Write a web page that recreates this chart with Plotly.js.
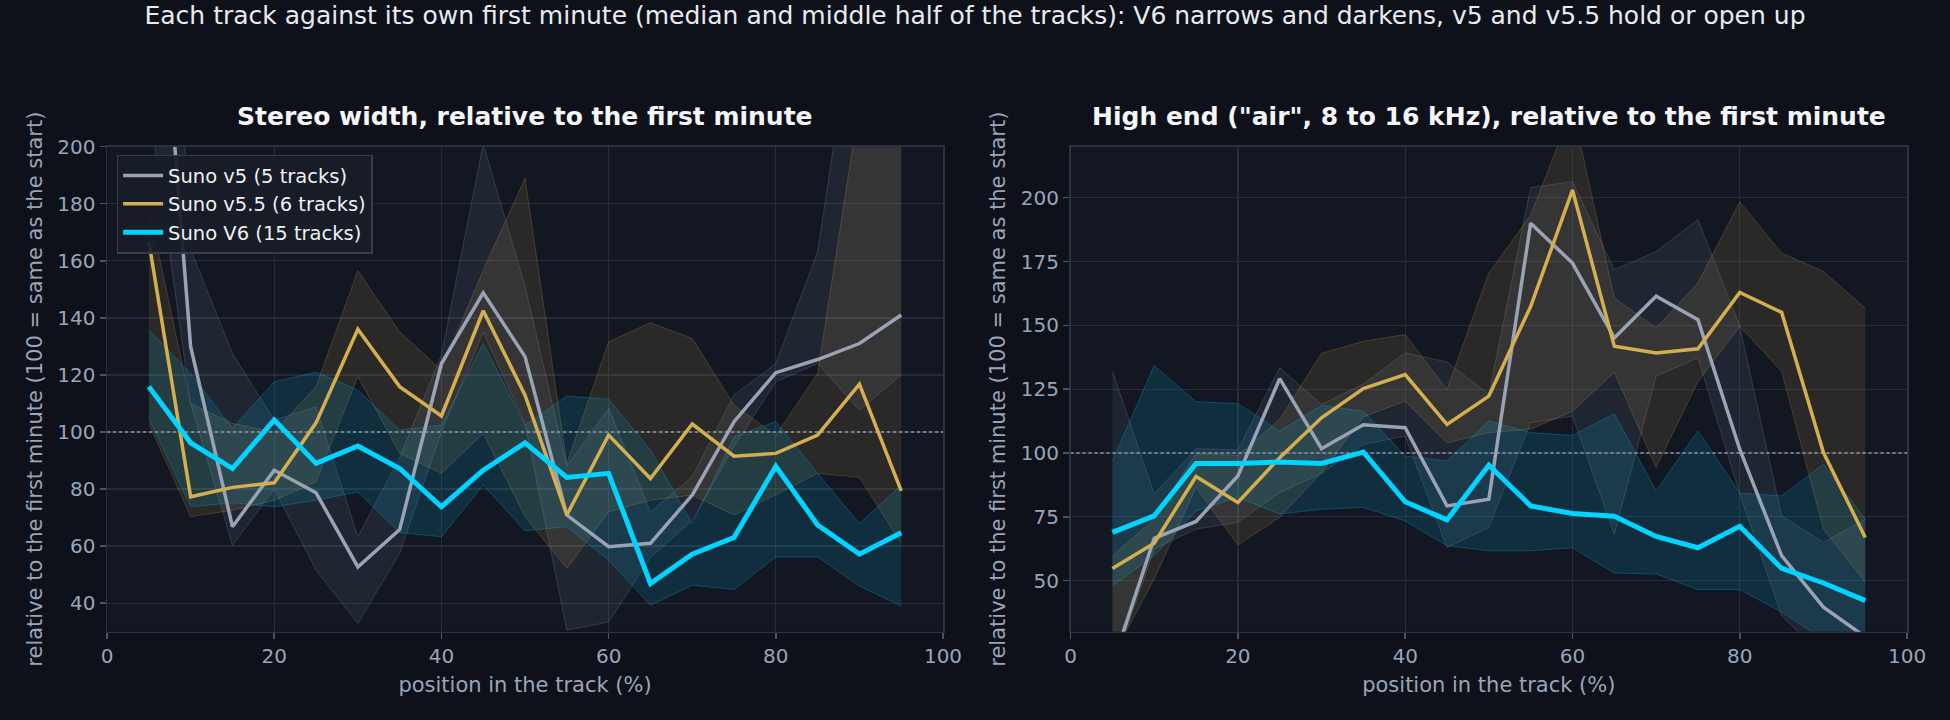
<!DOCTYPE html>
<html>
<head>
<meta charset="utf-8">
<script src="https://cdn.plot.ly/plotly-3.0.1.min.js"></script>
<style>
    html, body { margin: 0; padding: 0; background: #0e111a; }
    #chart { width: 1950px; height: 720px; }
</style>
</head>
<body>
<div id="chart"></div>
<script>
// position in the track (%), one value per 5 % slice
var positions = [5, 10, 15, 20, 25, 30, 35, 40, 45, 50, 55, 60, 65, 70, 75, 80, 85, 90, 95];

var seriesNames = ["Suno v5 (5 tracks)", "Suno v5.5 (6 tracks)", "Suno V6 (15 tracks)"];

// stereo width, relative to the first minute (median, lower and upper quartile)
var stereoV5Median = [315, 129.9, 66.8, 86.6, 78.7, 52.7, 65.8, 124, 148.8, 126.4, 70.9, 59.8, 61, 77.9, 103.6, 120.8, 125.4, 131, 141];
var stereoV5Q1 = [215, 110, 60.3, 80, 51.6, 32.9, 57.4, 100, 135, 103, 30.5, 33.4, 56, 69, 95, 117.6, 124, 107.7, 120];
var stereoV5Q3 = [420, 164, 127.5, 104.2, 108.8, 63.3, 91, 127, 201, 151, 88, 108.3, 72, 84.3, 113, 124, 163.2, 260, 280];

var stereoV55Median = [166.7, 77.3, 80.6, 82.2, 103.2, 136, 115.9, 105.6, 142.5, 112.9, 70.9, 98.9, 83.7, 102.8, 91.5, 92.5, 98.9, 116.8, 79.4];
var stereoV55Q1 = [103, 70.3, 72.6, 76, 82.6, 119.4, 92.5, 85.5, 99.5, 70.3, 52.2, 72, 76.1, 77.9, 70.9, 78, 85.5, 84.1, 61];
var stereoV55Q3 = [178.4, 110, 103, 100, 115.9, 156.5, 135.1, 121.7, 156.8, 188.9, 89, 131.6, 138.3, 132.8, 109.4, 98.9, 120.5, 215, 230];

var stereoV6Median = [115.9, 96.2, 87.2, 104.2, 89, 95.1, 87.2, 73.8, 86.6, 96.2, 84.1, 85.5, 46.9, 57.2, 63, 88, 67.4, 57.2, 64.7];
var stereoV6Q1 = [104.8, 73.8, 75.2, 73.8, 76.1, 79, 64.7, 63.3, 81.4, 65.4, 66.8, 55.1, 39.3, 46.3, 44.8, 56.2, 56.2, 46, 39];
var stereoV6Q3 = [135.7, 120.5, 101.3, 117.6, 121, 114.7, 100.7, 102.4, 131.1, 102.4, 112.6, 111.5, 93.7, 67.9, 98.3, 103.6, 85.5, 67.9, 81.4];

// high end ("air", 8 to 16 kHz), relative to the first minute
var airV5Median = [17, 66.6, 73.2, 91, 129.1, 101.7, 111.1, 109.9, 79.3, 81.9, 190, 174.4, 145.1, 161.4, 152.2, 101.4, 59.8, 39.6, 28];
var airV5Q1 = [15, 62.4, 70.2, 72.8, 84.5, 92, 103.4, 106.6, 63, 70.9, 111.9, 114.5, 68.2, 130.1, 137.3, 83.9, 36.3, 20, 15];
var airV5Q3 = [132, 83.9, 101.7, 101.2, 133.4, 119, 127, 139.2, 135.7, 122.9, 204, 206.3, 171.8, 178.9, 191.5, 149.6, 75.4, 65, 74.1];

var airV55Median = [54.8, 64.7, 90.8, 80.6, 98.2, 113.8, 125.2, 130.7, 111.2, 122.3, 157.4, 203, 141.8, 139.2, 140.8, 162.9, 155.1, 100.2, 66.9];
var airV55Q1 = [20, 50.7, 86.5, 64, 74.8, 92.3, 114.2, 120.3, 104, 108, 109.3, 116.4, 131.6, 94.3, 128, 149.6, 132, 70.2, 49.4];
var airV55Q3 = [59.8, 74.1, 99.9, 99, 113.2, 139, 143.8, 146.4, 124.9, 170.5, 193.2, 235, 160.7, 149, 166.6, 198.4, 178.3, 171.1, 156.8];

var airV6Median = [68.9, 75.4, 95.9, 95.9, 96.5, 95.9, 100.4, 80.9, 73.8, 95.2, 79.3, 76.3, 75.2, 67.3, 62.9, 71.3, 54.8, 49.1, 42.2];
var airV6Q1 = [48, 59.8, 77.3, 82.6, 76.1, 78, 78.7, 73.4, 63.7, 61.7, 61.7, 62.9, 53, 52.6, 46.5, 46.5, 37.7, 27, 22];
var airV6Q3 = [96.9, 134.3, 120.1, 119.4, 108.6, 118.6, 116.4, 98.8, 96.9, 112.5, 108, 106.9, 115.4, 85.2, 108.6, 84.3, 83.2, 95.6, 74.1];

var styles =
[
    { line: "#9aa3b5", width: 3.5, fill: "rgba(150,165,200,0.10)", edge: "rgba(150,165,200,0.22)" },
    { line: "#d4af4f", width: 3.5, fill: "rgba(212,175,79,0.12)", edge: "rgba(212,175,79,0.22)" },
    { line: "#00d4ff", width: 5, fill: "rgba(0,180,230,0.15)", edge: "rgba(0,190,240,0.28)" }
];

function bandTraces(q1, q3, style, xaxis, yaxis)
{
    var lower =
    {
        x: positions, y: q1, xaxis: xaxis, yaxis: yaxis,
        mode: "lines", type: "scatter",
        line: { color: style.edge, width: 1 },
        showlegend: false, hoverinfo: "skip"
    };

    var upper =
    {
        x: positions, y: q3, xaxis: xaxis, yaxis: yaxis,
        mode: "lines", type: "scatter",
        fill: "tonexty", fillcolor: style.fill,
        line: { color: style.edge, width: 1 },
        showlegend: false, hoverinfo: "skip"
    };

    return [lower, upper];
}

function medianTrace(values, index, xaxis, yaxis, showLegend)
{
    return {
        x: positions, y: values, xaxis: xaxis, yaxis: yaxis,
        mode: "lines", type: "scatter",
        name: seriesNames[index],
        line: { color: styles[index].line, width: styles[index].width },
        showlegend: showLegend
    };
}

var stereoBands = [[stereoV5Q1, stereoV5Q3], [stereoV55Q1, stereoV55Q3], [stereoV6Q1, stereoV6Q3]];
var stereoMedians = [stereoV5Median, stereoV55Median, stereoV6Median];
var airBands = [[airV5Q1, airV5Q3], [airV55Q1, airV55Q3], [airV6Q1, airV6Q3]];
var airMedians = [airV5Median, airV55Median, airV6Median];

var plotData = [];

for (var i = 0; i < 3; i++)
{
    plotData = plotData.concat(bandTraces(stereoBands[i][0], stereoBands[i][1], styles[i], "x", "y"));
}
for (var i = 0; i < 3; i++)
{
    plotData = plotData.concat(bandTraces(airBands[i][0], airBands[i][1], styles[i], "x2", "y2"));
}

// reference line at 100 (same as the start)
plotData.push({ x: [0, 100], y: [100, 100], xaxis: "x", yaxis: "y", mode: "lines", type: "scatter",
    line: { color: "#8f98aa", width: 1.5, dash: "dot" }, showlegend: false, hoverinfo: "skip" });
plotData.push({ x: [0, 100], y: [100, 100], xaxis: "x2", yaxis: "y2", mode: "lines", type: "scatter",
    line: { color: "#8f98aa", width: 1.5, dash: "dot" }, showlegend: false, hoverinfo: "skip" });

for (var i = 0; i < 3; i++)
{
    plotData.push(medianTrace(stereoMedians[i], i, "x", "y", true));
}
for (var i = 0; i < 3; i++)
{
    plotData.push(medianTrace(airMedians[i], i, "x2", "y2", false));
}

var gridColor = "#252b39";
var frameColor = "#2c3242";
var tickColor = "#9aa5b8";
var fontFamily = "DejaVu Sans, sans-serif";

function xAxis(domain, anchor)
{
    return {
        domain: domain, anchor: anchor, range: [0, 100],
        tickvals: [0, 20, 40, 60, 80, 100],
        showgrid: true, gridcolor: gridColor, gridwidth: 1.3,
        zeroline: false, showline: true, linecolor: frameColor, linewidth: 1.5, mirror: true,
        ticks: "outside", ticklen: 6, tickwidth: 1.5, tickcolor: "#4a5264",
        tickfont: { size: 20, color: tickColor, family: fontFamily },
        title: { text: "position in the track (%)", font: { size: 21, color: tickColor, family: fontFamily }, standoff: 10 }
    };
}

function yAxis(domain, anchor, range, tickvals)
{
    return {
        domain: domain, anchor: anchor, range: range,
        tickvals: tickvals,
        showgrid: true, gridcolor: gridColor, gridwidth: 1.3,
        zeroline: false, showline: true, linecolor: frameColor, linewidth: 1.5, mirror: true,
        ticks: "outside", ticklen: 6, tickwidth: 1.5, tickcolor: "#4a5264",
        tickfont: { size: 20, color: tickColor, family: fontFamily },
        title: { text: "relative to the first minute (100 = same as the start)", font: { size: 21, color: tickColor, family: fontFamily }, standoff: 9 }
    };
}

var yDomain = [0.1226, 0.7963];

var layout =
{
    width: 1950,
    height: 720,
    paper_bgcolor: "#0e111a",
    plot_bgcolor: "#131722",
    margin: { l: 0, r: 0, t: 0, b: 0 },
    font: { family: fontFamily, color: tickColor },
    title:
    {
        text: "Each track against its own first minute (median and middle half of the tracks): V6 narrows and darkens, v5 and v5.5 hold or open up",
        font: { size: 25, color: "#e8ecf2", family: fontFamily },
        x: 0.5, xanchor: "center", y: 0.979, yanchor: "middle"
    },
    xaxis: xAxis([0.0549, 0.4836], "y"),
    yaxis: yAxis(yDomain, "x", [30, 200], [40, 60, 80, 100, 120, 140, 160, 180, 200]),
    xaxis2: xAxis([0.549, 0.978], "y2"),
    yaxis2: yAxis(yDomain, "x2", [30, 220], [50, 75, 100, 125, 150, 175, 200]),
    showlegend: true,
    legend:
    {
        x: 0.0598, y: 0.785, xanchor: "left", yanchor: "top",
        traceorder: "normal",
        bgcolor: "rgba(24,29,40,0.92)", bordercolor: "#363c4b", borderwidth: 1.5,
        font: { size: 19.5, color: "#eef1f5", family: fontFamily },
        itemwidth: 40, tracegroupgap: 0
    },
    annotations:
    [
        {
            text: "<b>Stereo width, relative to the first minute</b>",
            xref: "paper", yref: "paper", x: 0.26925, y: 0.8375, xanchor: "center", yanchor: "middle",
            showarrow: false, font: { size: 25, color: "#f4f6f9", family: fontFamily }
        },
        {
            text: "<b>High end (\"air\", 8 to 16 kHz), relative to the first minute</b>",
            xref: "paper", yref: "paper", x: 0.7635, y: 0.8375, xanchor: "center", yanchor: "middle",
            showarrow: false, font: { size: 25, color: "#f4f6f9", family: fontFamily }
        }
    ]
};

var config = { staticPlot: true, displayModeBar: false };

Plotly.newPlot("chart", plotData, layout, config);
</script>
</body>
</html>
